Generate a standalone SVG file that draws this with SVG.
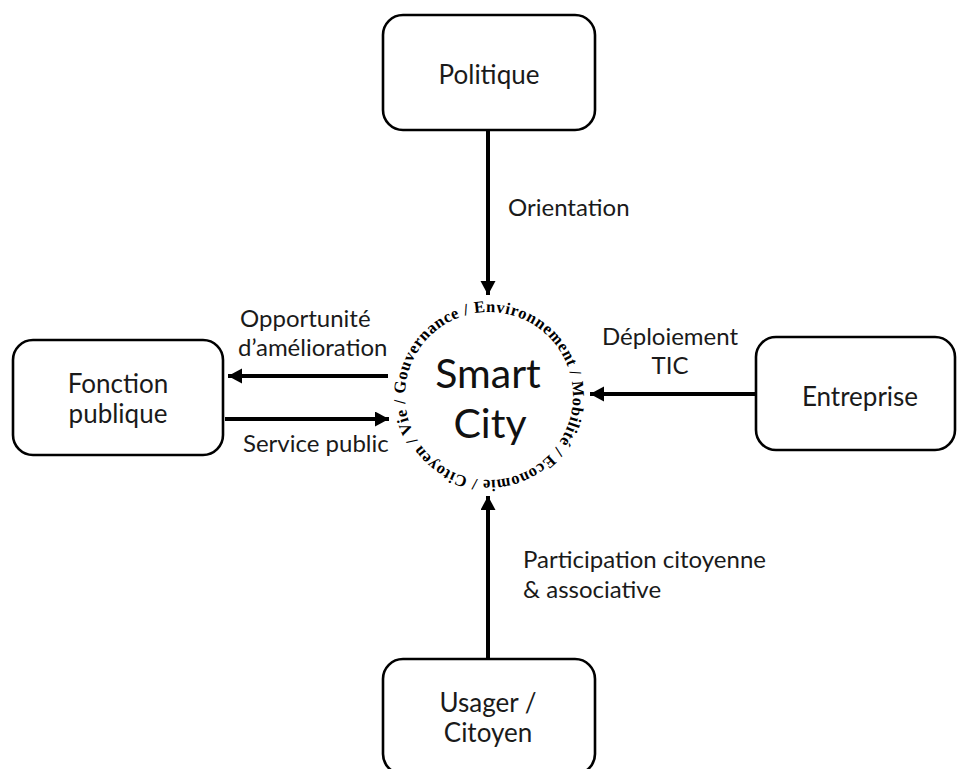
<svg xmlns="http://www.w3.org/2000/svg" width="957" height="769" viewBox="0 0 957 769">
<style>
.box{fill:#fff;stroke:#000;stroke-width:2.6}
.nt{font-family:Lato,"Open Sans",sans-serif;font-size:26px;fill:#1a1a1a;text-anchor:middle}
.lb{font-family:Lato,"Open Sans",sans-serif;font-size:24px;fill:#1a1a1a}
.ar{stroke:#000;stroke-width:4;fill:none;marker-end:url(#ah)}
.ring{font-family:"Liberation Serif","DejaVu Serif",serif;font-weight:bold;font-size:16.5px;fill:#000}
</style>
<defs>
<marker id="ah" markerUnits="userSpaceOnUse" markerWidth="16" markerHeight="16" refX="14" refY="7.5" orient="auto">
<path d="M0,0 L14,7.5 L0,15 Z" fill="#000"/>
</marker>
<path id="circ" d="M413.2,432.2 A84,84 0 1,1 564.8,359.8 A84,84 0 1,1 413.2,432.2"/>
</defs>
<rect width="957" height="769" fill="#fff"/>
<g id="connectors">
<line class="ar" x1="488" y1="131" x2="488" y2="295"/>
<line class="ar" x1="388" y1="376" x2="228" y2="376"/>
<line class="ar" x1="225" y1="419" x2="389" y2="419"/>
<line class="ar" x1="755" y1="394" x2="590" y2="394"/>
<line class="ar" x1="488" y1="658" x2="488" y2="496"/>
<text class="lb" x="508" y="216">Orientation</text>
<text class="lb" x="240" y="327">Opportunité</text>
<text class="lb" x="238" y="356">d’amélioration</text>
<text class="lb" x="243" y="452">Service public</text>
<text class="lb" x="670" y="345" text-anchor="middle">Déploiement</text>
<text class="lb" x="670" y="374" text-anchor="middle">TIC</text>
<text class="lb" x="523" y="568">Participation citoyenne</text>
<text class="lb" x="523" y="598">&amp; associative</text>
</g>
<g id="politique">
<rect class="box" x="383" y="15" width="212" height="115" rx="20"/>
<text class="nt" x="489" y="84">Politique</text>
</g>
<g id="fonction-publique">
<rect class="box" x="13" y="340" width="210" height="115" rx="20"/>
<text class="nt" x="118" y="393">Fonction</text>
<text class="nt" x="118" y="423">publique</text>
</g>
<g id="entreprise">
<rect class="box" x="756" y="337" width="199" height="113" rx="20"/>
<text class="nt" x="860" y="406">Entreprise</text>
</g>
<g id="usager">
<rect class="box" x="383" y="659" width="212" height="115" rx="20"/>
<text class="nt" x="488" y="712">Usager /</text>
<text class="nt" x="488" y="742">Citoyen</text>
</g>
<g id="smart-city">
<text font-family="Lato,'Open Sans',sans-serif" font-size="41" fill="#111" text-anchor="middle" x="488" y="388">Smart</text>
<text font-family="Lato,'Open Sans',sans-serif" font-size="41" fill="#111" text-anchor="middle" x="490" y="438">City</text>
<text class="ring"><textPath href="#circ" textLength="522" lengthAdjust="spacing">Vie / Gouvernance / Environnement / Mobilité / Economie / Citoyen /</textPath></text>
</g>
</svg>
